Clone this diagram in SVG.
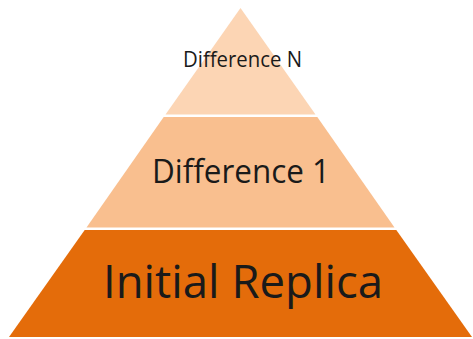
<svg xmlns="http://www.w3.org/2000/svg" width="473" height="339" viewBox="0 0 473 339">
<style>
.lbl{font-family:"Open Sans","Liberation Sans",sans-serif;fill:#1a1a1a;text-anchor:middle}
</style>
<rect width="473" height="339" fill="#ffffff"/>
<g id="level-top">
<polygon points="240.5,8 165.5,114.5 315.5,114.5" fill="#FCD5B4"/>
<text class="lbl" x="242.5" y="66.7" font-size="21" textLength="119" lengthAdjust="spacingAndGlyphs">Difference N</text>
</g>
<g id="level-middle">
<polygon points="163.7,117 317.3,117 394.5,227.5 86.5,227.5" fill="#F9BF8F"/>
<text class="lbl" x="241" y="182.7" font-size="32" textLength="178" lengthAdjust="spacingAndGlyphs">Difference 1</text>
</g>
<g id="level-bottom">
<polygon points="84.7,230 396.3,230 472,337 9,337" fill="#E46C0A"/>
<text class="lbl" x="243" y="298" font-size="46" textLength="280" lengthAdjust="spacingAndGlyphs">Initial Replica</text>
</g>
<g id="connectors"/>
</svg>
